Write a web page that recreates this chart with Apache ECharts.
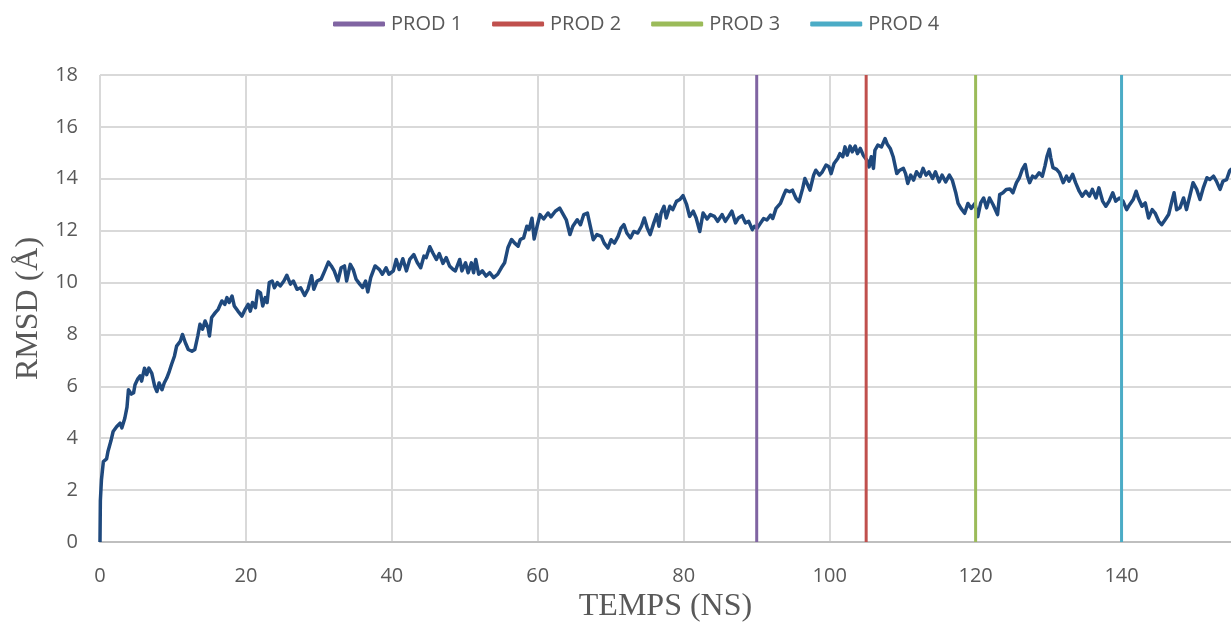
<!DOCTYPE html>
<html>
<head>
<meta charset="utf-8">
<script src="https://cdn.jsdelivr.net/npm/echarts@6/dist/echarts.min.js"></script>
<style>
  html, body { margin: 0; padding: 0; background: #fff; }
  #chart { width: 1231px; height: 631px; }
</style>
</head>
<body>
<div id="chart"></div>
<script>
// Simulation time (ns) and backbone RMSD (Å)
const timeNs = [
  0, 0.05, 0.2, 0.46, 0.9, 1.1, 1.5, 1.8, 2.3, 2.75, 3.0, 3.4, 3.7, 3.9, 4.3, 4.6, 4.8, 5.2, 5.5, 5.7,
  6.1, 6.4, 6.7, 7.1, 7.5, 7.8, 8.1, 8.5, 8.8, 9.15, 9.5, 9.8, 10.2, 10.5, 11.0, 11.3, 11.7, 12.1, 12.6, 13.0,
  13.4, 13.7, 14.05, 14.4, 14.8, 15.0, 15.3, 15.8, 16.2, 16.7, 17.1, 17.4, 17.7, 18.1, 18.4, 18.9, 19.45, 19.9, 20.3, 20.6,
  20.9, 21.3, 21.6, 22.0, 22.3, 22.65, 22.9, 23.2, 23.6, 23.9, 24.3, 24.7, 25.2, 25.6, 26.1, 26.5, 27.0, 27.5, 28.05, 28.5,
  29.0, 29.3, 29.75, 30.3, 30.8, 31.3, 31.7, 32.1, 32.6, 33.05, 33.5, 33.8, 34.3, 34.7, 35.1, 35.6, 36.0, 36.4, 36.7, 37.1,
  37.7, 38.3, 38.7, 39.2, 39.6, 40.2, 40.6, 41.0, 41.5, 42.0, 42.45, 43.0, 43.5, 43.95, 44.4, 44.7, 45.2, 45.6, 46.1, 46.5,
  47.0, 47.45, 47.9, 48.4, 48.7, 49.3, 49.6, 50.1, 50.45, 50.9, 51.2, 51.5, 51.9, 52.4, 52.9, 53.4, 53.95, 54.5, 55.0, 55.45,
  55.9, 56.4, 56.8, 57.3, 57.6, 58.05, 58.5, 58.8, 59.2, 59.5, 59.9, 60.3, 60.8, 61.4, 61.8, 62.4, 63.0, 63.5, 63.9, 64.4,
  64.8, 65.4, 65.85, 66.3, 66.8, 67.2, 67.6, 68.1, 68.7, 69.1, 69.6, 70.05, 70.5, 71.0, 71.4, 71.8, 72.2, 72.7, 73.15, 73.7,
  74.2, 74.6, 75.0, 75.4, 75.9, 76.3, 76.6, 76.9, 77.3, 77.6, 78.1, 78.5, 79.0, 79.45, 79.9, 80.4, 80.8, 81.3, 81.7, 82.2,
  82.65, 83.2, 83.65, 84.2, 84.65, 85.25, 85.7, 86.15, 86.6, 87.1, 87.5, 88.0, 88.45, 88.9, 89.4, 89.7, 90.05, 90.5, 90.95, 91.4,
  91.9, 92.2, 92.65, 93.25, 93.7, 94.0, 94.5, 94.9, 95.4, 95.8, 96.3, 96.6, 97.0, 97.3, 97.8, 98.1, 98.6, 99.0, 99.5, 99.9,
  100.2, 100.6, 101.1, 101.4, 101.8, 102.1, 102.4, 102.8, 103.1, 103.5, 103.8, 104.2, 104.6, 105.1, 105.4, 105.7, 106.0, 106.2, 106.6, 107.1,
  107.6, 107.9, 108.3, 108.7, 109.2, 109.6, 110.1, 110.4, 110.7, 111.1, 111.5, 111.9, 112.4, 112.8, 113.2, 113.6, 114.1, 114.5, 115.0, 115.4,
  115.9, 116.4, 116.8, 117.3, 117.6, 118.0, 118.5, 118.95, 119.4, 119.9, 120.3, 120.7, 121.1, 121.5, 121.9, 122.4, 123.0, 123.3, 123.75, 124.2,
  124.7, 125.1, 125.6, 126.0, 126.4, 126.8, 127.1, 127.4, 127.8, 128.2, 128.7, 129.15, 129.5, 129.8, 130.1, 130.3, 130.6, 131.1, 131.5, 132.0,
  132.45, 132.8, 133.3, 133.7, 134.2, 134.6, 135.1, 135.6, 136.0, 136.5, 136.9, 137.4, 137.85, 138.3, 138.8, 139.2, 139.7, 140.2, 140.7, 141.1,
  141.6, 142.0, 142.3, 142.8, 143.25, 143.7, 144.2, 144.6, 145.1, 145.5, 146.0, 146.45, 146.9, 147.2, 147.55, 148.0, 148.5, 148.9, 149.4, 149.8,
  150.3, 150.75, 151.2, 151.7, 152.1, 152.6, 153.0, 153.5, 153.9, 154.4, 154.8, 155.1
];
const rmsdA = [
  0, 1.6, 2.4, 3.1, 3.2, 3.5, 3.9, 4.26, 4.45, 4.58, 4.4, 4.77, 5.2, 5.87, 5.7, 5.75, 6.06, 6.3, 6.4, 6.2,
  6.7, 6.45, 6.7, 6.5, 6.0, 5.8, 6.13, 5.87, 6.13, 6.32, 6.58, 6.84, 7.16, 7.55, 7.74, 8.0, 7.68, 7.42, 7.35, 7.42,
  7.94, 8.39, 8.2, 8.52, 8.26, 7.94, 8.65, 8.84, 8.97, 9.29, 9.16, 9.42, 9.23, 9.48, 9.1, 8.9, 8.71, 8.97, 9.16, 8.9,
  9.23, 9.03, 9.68, 9.6, 9.1, 9.42, 9.23, 10.0, 10.06, 9.8, 10.0, 9.87, 10.06, 10.28, 9.94, 10.06, 9.74, 9.8, 9.5, 9.74,
  10.26, 9.74, 10.06, 10.13, 10.45, 10.79, 10.64, 10.45, 10.06, 10.57, 10.64, 10.06, 10.7, 10.5, 10.13, 9.94, 9.81, 10.06, 9.64, 10.19,
  10.64, 10.5, 10.32, 10.57, 10.32, 10.45, 10.89, 10.5, 10.92, 10.45, 10.89, 11.08, 10.76, 10.57, 11.02, 10.96, 11.38, 11.15, 10.89, 11.12,
  10.74, 10.96, 10.64, 10.5, 10.45, 10.89, 10.45, 10.76, 10.38, 10.76, 10.38, 10.89, 10.32, 10.45, 10.25, 10.38, 10.19, 10.32, 10.57, 10.76,
  11.34, 11.66, 11.53, 11.4, 11.66, 11.72, 12.17, 12.04, 12.48, 11.68, 12.17, 12.62, 12.45, 12.68, 12.53, 12.75, 12.87, 12.62, 12.42, 11.85,
  12.17, 12.42, 12.23, 12.62, 12.68, 12.17, 11.65, 11.85, 11.78, 11.52, 11.33, 11.65, 11.52, 11.78, 12.1, 12.23, 11.91, 11.72, 11.97, 11.91,
  12.17, 12.49, 12.1, 11.85, 12.3, 12.62, 12.17, 12.68, 12.94, 12.49, 12.94, 12.81, 13.13, 13.2, 13.35, 13.0, 12.55, 12.75, 12.49, 11.97,
  12.68, 12.45, 12.62, 12.55, 12.36, 12.62, 12.36, 12.55, 12.75, 12.3, 12.49, 12.58, 12.3, 12.36, 12.04, 12.17, 12.09, 12.28, 12.47, 12.41,
  12.6, 12.47, 12.86, 13.05, 13.37, 13.56, 13.5, 13.56, 13.24, 13.12, 13.63, 14.01, 13.76, 13.56, 14.14, 14.33, 14.14, 14.27, 14.53, 14.46,
  14.2, 14.59, 14.78, 14.97, 14.85, 15.23, 14.91, 15.26, 15.04, 15.26, 14.97, 15.17, 14.91, 14.72, 14.46, 14.85, 14.4, 15.1, 15.3, 15.23,
  15.55, 15.33, 15.17, 14.85, 14.2, 14.33, 14.4, 14.2, 13.82, 14.14, 13.95, 14.27, 14.08, 14.4, 14.14, 14.27, 14.01, 14.27, 13.88, 14.14,
  13.88, 14.14, 13.95, 13.44, 13.05, 12.86, 12.67, 13.05, 12.86, 13.05, 12.54, 13.07, 13.26, 12.88, 13.26, 13.0, 12.62, 13.39, 13.46, 13.59,
  13.61, 13.46, 13.85, 14.04, 14.36, 14.55, 14.1, 13.85, 14.1, 14.04, 14.23, 14.1, 14.49, 14.88, 15.14, 14.81, 14.43, 14.36, 14.23, 13.85,
  14.1, 13.91, 14.17, 13.85, 13.52, 13.33, 13.52, 13.33, 13.59, 13.26, 13.65, 13.14, 12.94, 13.14, 13.46, 13.14, 13.26, 13.14, 12.81, 13.0,
  13.2, 13.52, 13.26, 12.94, 13.07, 12.49, 12.81, 12.68, 12.36, 12.23, 12.43, 12.62, 13.14, 13.46, 12.81, 12.88, 13.26, 12.81, 13.39, 13.85,
  13.59, 13.2, 13.65, 14.04, 13.97, 14.1, 13.91, 13.59, 13.91, 13.97, 14.3, 14.39
];

// Production run start markers
const prodNames = ['PROD 1', 'PROD 2', 'PROD 3', 'PROD 4'];
const prodStartNs = [90, 105, 120, 140];

// Axis ranges and ticks
const xRange = [0, 155];
const xStep = 20;
const yRange = [0, 18];
const yStep = 2;

const prodPalette = ['#8064A2', '#C0504D', '#9BBB59', '#4BACC6'];
const traceColor = '#1F497D';
const textColor = '#595959';
const gridColor = '#D9D9D9';

const chart = echarts.init(document.getElementById('chart'), null, { renderer: 'canvas' });

const rmsdSeries = {
  name: 'RMSD',
  type: 'line',
  data: timeNs.map((t, i) => [t, rmsdA[i]]),
  showSymbol: false,
  symbol: 'none',
  silent: true,
  lineStyle: { color: traceColor, width: 3.5, join: 'round' },
  z: 2
};

const prodSeries = prodNames.map((name, i) => ({
  name,
  type: 'line',
  data: [[prodStartNs[i], yRange[0]], [prodStartNs[i], yRange[1]]],
  symbol: 'none',
  silent: true,
  itemStyle: { color: prodPalette[i] },
  lineStyle: { color: prodPalette[i], width: 3 },
  z: 3
}));

chart.setOption({
  animation: false,
  backgroundColor: '#ffffff',
  textStyle: { fontFamily: 'Open Sans' },
  grid: { left: 100, right: 0, top: 75, bottom: 89, containLabel: false },
  legend: {
    data: prodNames,
    left: 328,
    top: 9,
    icon: 'roundRect',
    itemWidth: 52,
    itemHeight: 5,
    itemGap: 30,
    textStyle: { color: textColor, fontSize: 20, fontFamily: 'Open Sans', padding: [0, 0, 0, 1] }
  },
  xAxis: {
    type: 'value',
    min: xRange[0],
    max: xRange[1],
    interval: xStep,
    name: 'TEMPS (NS)',
    nameLocation: 'middle',
    nameGap: 48,
    nameTextStyle: { color: textColor, fontSize: 32, fontFamily: 'Liberation Serif' },
    axisLine: { show: true, onZero: false, lineStyle: { color: '#BFBFBF', width: 2 } },
    axisTick: { show: false },
    axisLabel: { color: textColor, fontSize: 20, margin: 24, showMaxLabel: false, fontFamily: 'Open Sans' },
    splitLine: { show: true, showMaxLine: false, lineStyle: { color: gridColor, width: 2 } }
  },
  yAxis: {
    type: 'value',
    min: yRange[0],
    max: yRange[1],
    interval: yStep,
    name: 'RMSD (Å)',
    nameLocation: 'middle',
    nameGap: 54,
    nameTextStyle: { color: textColor, fontSize: 32, fontFamily: 'Liberation Serif' },
    axisLine: { show: false },
    axisTick: { show: false },
    axisLabel: { color: textColor, fontSize: 20, margin: 22, fontFamily: 'Open Sans' },
    splitLine: { show: true, lineStyle: { color: gridColor, width: 2 } }
  },
  series: [rmsdSeries, ...prodSeries]
});
</script>
</body>
</html>
